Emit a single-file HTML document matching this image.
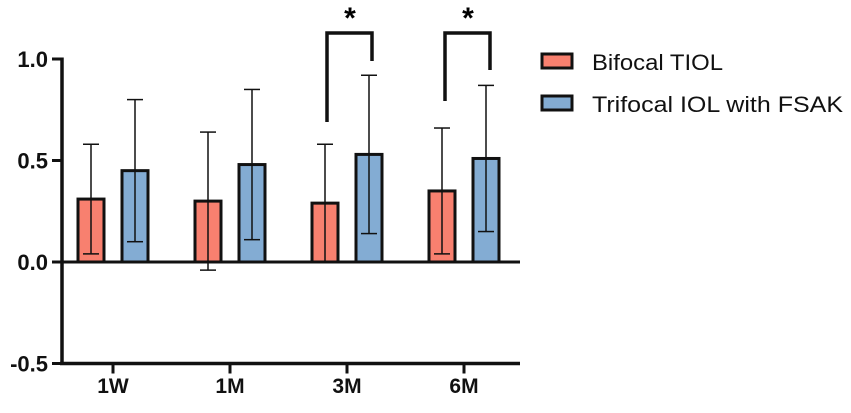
<!DOCTYPE html>
<html><head><meta charset="utf-8"><style>
html,body{margin:0;padding:0;background:#fff;}
svg{display:block;font-family:"Liberation Sans",Arial,sans-serif;}
</style></head><body>
<svg id="chart" width="851" height="413" viewBox="0 0 851 413">
<g id="axes"></g><g id="bars"></g>
<g>
<path d="M327,122 V33 H372 V61" fill="none" stroke="#111" stroke-width="3.5"/>
<text x="350" y="28" font-size="30" font-weight="bold" text-anchor="middle">*</text>
</g>
<g>
<path d="M445,101 V33 H490 V70" fill="none" stroke="#111" stroke-width="3.5"/>
<text x="468" y="28" font-size="30" font-weight="bold" text-anchor="middle">*</text>
</g>
<g>
<rect x="542" y="54" width="30" height="14" fill="#f8806f" stroke="#111" stroke-width="3"/>
<text x="592" y="70" font-size="22" fill="#111" textLength="131" lengthAdjust="spacingAndGlyphs">Bifocal TIOL</text>
<rect x="542" y="96" width="30" height="14" fill="#83acd3" stroke="#111" stroke-width="3"/>
<text x="592" y="112" font-size="22" fill="#111" textLength="251" lengthAdjust="spacingAndGlyphs">Trifocal IOL with FSAK</text>
</g>
</svg>
<script>
const categories=["1W","1M","3M","6M"];
const bifocal=[0.31,0.30,0.29,0.35];
const bifocalHi=[0.58,0.64,0.58,0.66];
const bifocalLo=[0.04,-0.04,0.00,0.04];
const trifocal=[0.45,0.48,0.53,0.51];
const trifocalHi=[0.80,0.85,0.92,0.87];
const trifocalLo=[0.10,0.11,0.14,0.15];
const yTicks=[1.0,0.5,0.0,-0.5];
const yTickLabels=["1.0","0.5","0.0","-0.5"];
const NS="http://www.w3.org/2000/svg";
function y(v){return 262-v*203;}
function xc(i){return 113+i*117;}
function mk(t,a,p){const e=document.createElementNS(NS,t);for(const k in a)e.setAttribute(k,a[k]);p.appendChild(e);return e;}
const ax=document.getElementById('axes'),bg=document.getElementById('bars');
const yl=mk('line',{x1:62,y1:y(1)-1.5,x2:62,y2:y(-0.5)+1.5,stroke:'#111','stroke-width':3.5},ax);


const xl=mk('line',{x1:60,y1:y(-0.5),x2:520,y2:y(-0.5),stroke:'#111','stroke-width':3.5},ax);


const zl=mk('line',{x1:52,y1:y(0),x2:520,y2:y(0),stroke:'#111','stroke-width':3},ax);


yTicks.forEach((v,i)=>{
 mk('line',{x1:52,y1:y(v),x2:62,y2:y(v),stroke:'#111','stroke-width':3},ax);
 const t=mk('text',{x:48,y:y(v)+8,'font-size':22,'font-weight':'bold','text-anchor':'end',fill:'#111'},ax);
 t.textContent=yTickLabels[i];
 
 
});
categories.forEach((c,i)=>{
 mk('line',{x1:xc(i),y1:y(-0.5),x2:xc(i),y2:y(-0.5)+10,stroke:'#111','stroke-width':3},ax);
 const t=mk('text',{x:xc(i),y:393,'font-size':21,'font-weight':'bold','text-anchor':'middle',fill:'#111'},ax);
 t.textContent=c;
 
 
 [[bifocal,bifocalHi,bifocalLo,-22,'#f8806f','bar-bifocal'],[trifocal,trifocalHi,trifocalLo,22,'#83acd3','bar-trifocal']].forEach(s=>{
  const cx=xc(i)+s[3];
  const r=mk('rect',{x:cx-13,y:y(s[0][i]),width:26,height:y(0)-y(s[0][i]),fill:s[4],stroke:'#111','stroke-width':3},bg);
  
  
  const g=mk('g',{stroke:'#111','stroke-width':1.5},bg);
  
  
  mk('line',{x1:cx,y1:y(s[1][i]),x2:cx,y2:y(s[2][i]),},g);
  mk('line',{x1:cx-8,y1:y(s[1][i]),x2:cx+8,y2:y(s[1][i])},g);
  mk('line',{x1:cx-8,y1:y(s[2][i]),x2:cx+8,y2:y(s[2][i])},g);
 });
});
</script>
</body></html>
